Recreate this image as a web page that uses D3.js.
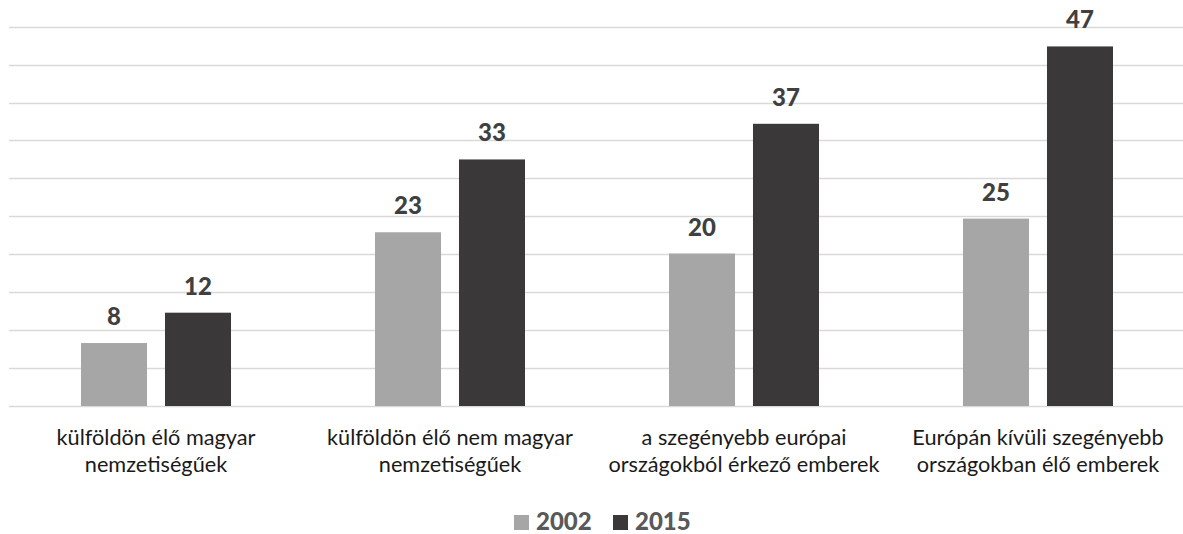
<!DOCTYPE html>
<html>
<head>
<meta charset="utf-8">
<script src="https://cdn.jsdelivr.net/npm/d3@7"></script>
<style>
  body { margin: 0; background: #fff; }
  svg { display: block; }
</style>
</head>
<body>
<script>
const W = 1183, H = 534;

// data (labels show rounded values)
const categories = [
  ['külföldön élő magyar', 'nemzetiségűek'],
  ['külföldön élő nem magyar', 'nemzetiségűek'],
  ['a szegényebb európai', 'országokból érkező emberek'],
  ['Európán kívüli szegényebb', 'országokban élő emberek']
];
const seriesNames = ['2002', '2015'];
const values2002 = [8.3, 22.9, 20.1, 24.7];
const values2015 = [12.3, 32.5, 37.2, 47.4];
const yTicks = [0, 5, 10, 15, 20, 25, 30, 35, 40, 45, 50];

const colors = { '2002': '#a6a6a6', '2015': '#3b3839' };
const font = 'Lato, "Open Sans", sans-serif';

const svg = d3.select('body').append('svg')
    .attr('width', W)
    .attr('height', H);

const catIdx = d3.range(categories.length);

const x0 = d3.scaleBand()
    .domain(catIdx)
    .range([9, 1185]);

const x1 = d3.scaleBand()
    .domain(seriesNames)
    .range([72, 222])
    .paddingInner(0.214);

const y = d3.scaleLinear()
    .domain([0, 50])
    .range([406, 26.7]);

// gridlines
svg.append('g')
  .selectAll('line')
  .data(yTicks)
  .join('line')
    .attr('x1', 9)
    .attr('x2', W)
    .attr('y1', d => Math.round(y(d)) + 0.5)
    .attr('y2', d => Math.round(y(d)) + 0.5)
    .attr('stroke', '#d9d9d9')
    .attr('stroke-width', 1.3);

const rows = catIdx.map(i => seriesNames.map((s, j) => ({
  cat: i, key: s, value: (j === 0 ? values2002 : values2015)[i]
})));

const groups = svg.append('g')
  .selectAll('g')
  .data(rows)
  .join('g')
    .attr('transform', (d, i) => `translate(${x0(i)},0)`);

groups.selectAll('rect')
  .data(d => d)
  .join('rect')
    .attr('x', d => x1(d.key))
    .attr('width', x1.bandwidth())
    .attr('y', d => y(d.value))
    .attr('height', d => y(0) - y(d.value))
    .attr('fill', d => colors[d.key]);

groups.selectAll('text.val')
  .data(d => d)
  .join('text')
    .attr('class', 'val')
    .attr('x', d => x1(d.key) + x1.bandwidth() / 2)
    .attr('y', d => y(d.value) - 18)
    .attr('text-anchor', 'middle')
    .attr('font-family', font)
    .attr('font-weight', 900)
    .attr('font-size', 24)
    .attr('fill', '#404040')
    .text(d => d3.format('.0f')(d.value));

// category labels
const labels = svg.append('g')
  .selectAll('text')
  .data(categories)
  .join('text')
    .attr('x', (d, i) => x0(i) + x0.bandwidth() / 2)
    .attr('y', 445)
    .attr('text-anchor', 'middle')
    .attr('font-family', font)
    .attr('font-size', 21.7)
    .attr('fill', '#1a1a1a');

labels.selectAll('tspan')
  .data(d => d)
  .join('tspan')
    .attr('x', function () { return this.parentNode.getAttribute('x'); })
    .attr('dy', (d, i) => i === 0 ? 0 : 27)
    .text(d => d);

// legend
const legend = svg.append('g').attr('transform', 'translate(514,0)');
const legendX = d3.scaleOrdinal().domain(seriesNames).range([0, 99]);

const item = legend.selectAll('g')
  .data(seriesNames)
  .join('g')
    .attr('transform', d => `translate(${legendX(d)},0)`);

item.append('rect')
    .attr('x', 0)
    .attr('y', 515)
    .attr('width', 15)
    .attr('height', 15)
    .attr('fill', d => colors[d]);

item.append('text')
    .attr('x', 22)
    .attr('y', 530)
    .attr('font-family', font)
    .attr('font-weight', 900)
    .attr('font-size', 24)
    .attr('fill', '#595959')
    .text(d => d);
</script>
</body>
</html>
